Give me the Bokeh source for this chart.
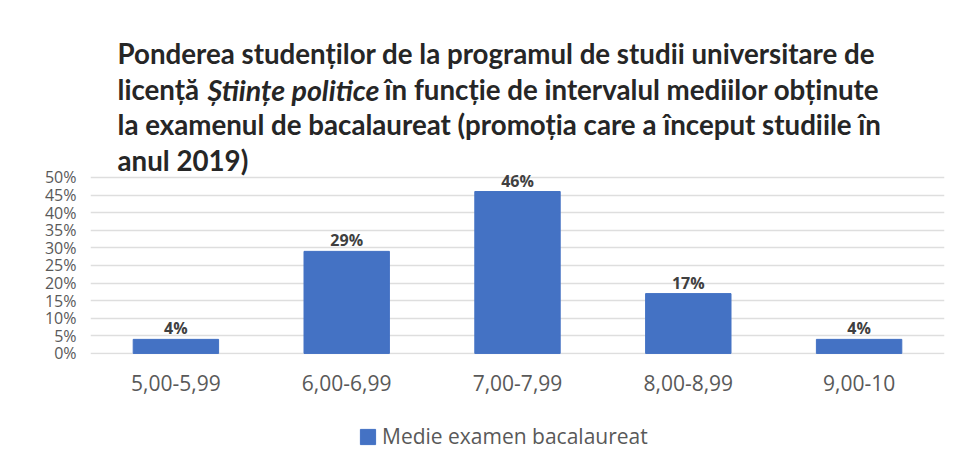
from bokeh.plotting import figure
from bokeh.layouts import column
from bokeh.models import (ColumnDataSource, FactorRange, Range1d, FixedTicker,
                          PrintfTickFormatter, LabelSet, Label, Legend, LegendItem)
from bokeh.core.properties import value
from bokeh.embed import file_html
from bokeh.resources import INLINE

categories = ["5,00-5,99", "6,00-6,99", "7,00-7,99", "8,00-8,99", "9,00-10"]
values = [4, 29, 46, 17, 4]
y_ticks = [0, 5, 10, 15, 20, 25, 30, 35, 40, 45, 50]
series_name = "Medie examen bacalaureat"
title_line1 = "Ponderea studenților de la programul de studii universitare de"
title_line2a = "licență"
title_line2b = "Științe politice"
title_line2c = "în funcție de intervalul mediilor obținute"
title_line3 = "la examenul de bacalaureat (promoția care a început studiile în"
title_line4 = "anul 2019)"

BAR = "#4472C4"
GRAY = "#595959"
DARK = "#262626"
W = 946
FRAME_L, FRAME_R = 90, 2
FRAME_B = 354                       # frame bottom on the canvas
H1 = 404                            # chart figure height
H2 = 58                             # legend strip height
PX_PER_UNIT = 3.52
Y0 = -0.3
Y1 = Y0 + FRAME_B / PX_PER_UNIT     # frame reaches the top of the canvas

src = ColumnDataSource(dict(cat=categories, val=values,
                            lab=[f"{v}%" for v in values]))

p = figure(x_range=FactorRange(*categories, range_padding=0),
           y_range=Range1d(Y0, Y1),
           width=W, height=H1, output_backend="svg", toolbar_location=None,
           min_border_left=FRAME_L, min_border_right=FRAME_R, min_border_top=0,
           min_border_bottom=H1 - FRAME_B)
p.outline_line_color = None

r = p.vbar(x="cat", top="val", width=0.5, source=src, fill_color=BAR,
           line_color=BAR)

p.xgrid.grid_line_color = None
p.ygrid.grid_line_color = "#dedede"
p.ygrid.grid_line_width = 1.5
p.yaxis.ticker = FixedTicker(ticks=y_ticks)
p.yaxis.formatter = PrintfTickFormatter(format="%d%%")
for ax in (p.xaxis[0], p.yaxis[0]):
    ax.axis_line_color = None
    ax.major_tick_line_color = None
    ax.minor_tick_line_color = None
    ax.major_tick_out = 0
    ax.major_tick_in = 0
    ax.major_label_text_color = GRAY
    ax.major_label_text_font = "Open Sans"
p.yaxis.major_label_text_font_size = "16px"
p.yaxis.major_label_standoff = 14
p.xaxis.major_label_text_font_size = "21px"
p.xaxis.major_label_standoff = 20

labels = LabelSet(x="cat", y="val", text="lab", source=src, y_offset=5,
                  text_align="center", text_baseline="alphabetic",
                  text_font=value("Open Sans"), text_font_style="bold",
                  text_font_size="16px", text_color="#404040")
p.add_layout(labels)

def tl(page_x, page_y, text, style="bold", size="27.7px"):
    p.add_layout(Label(x=page_x - FRAME_L, y=FRAME_B - page_y,
                       x_units="screen", y_units="screen", text=text,
                       text_font="Lato", text_font_style=style,
                       text_font_size=size, text_color=DARK,
                       text_baseline="alphabetic", text_align="left"))

tl(117, 53, title_line1)
tl(117, 89, title_line2a)
tl(207, 89, title_line2b, "bold italic", "28.6px")
tl(384, 89, title_line2c)
tl(117, 124, title_line3)
tl(117, 160, title_line4)

# ---- legend strip ----
q = figure(width=W, height=H2, x_range=Range1d(0, 1), y_range=Range1d(0, 1),
           x_axis_type=None, y_axis_type=None, output_backend="svg",
           toolbar_location=None, min_border_left=FRAME_L,
           min_border_right=FRAME_R, min_border_top=0, min_border_bottom=0)
q.outline_line_color = None
q.grid.grid_line_color = None
# hidden swatch renderer that only supplies the legend glyph style
swatch = q.vbar(x=[0.5], top=[0.5], width=0.1, fill_color=BAR,
                line_color=BAR, visible=False)
legend = Legend(items=[LegendItem(label=series_name, renderers=[swatch])],
                location=(268, 12), orientation="horizontal",
                border_line_color=None, background_fill_alpha=0,
                padding=0, margin=0, glyph_width=19, glyph_height=19,
                label_text_font="Open Sans", label_text_font_size="21px",
                label_text_color=GRAY, label_standoff=5)
q.add_layout(legend, "center")

layout = column(p, q, spacing=0)
open("out.html", "w").write(file_html(layout, INLINE))
